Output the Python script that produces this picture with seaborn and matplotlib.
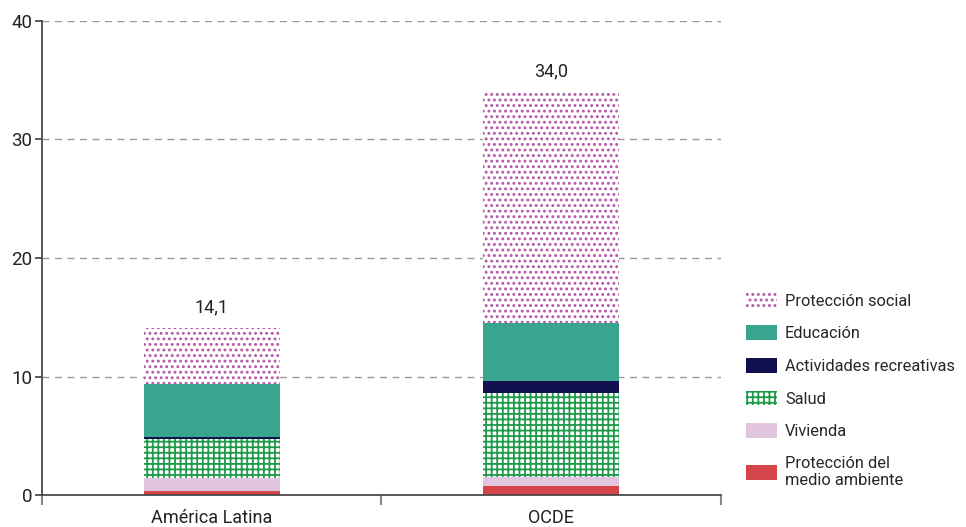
import matplotlib
matplotlib.use("Agg")
import matplotlib.pyplot as plt
import seaborn as sns
import numpy as np
from matplotlib.patches import Patch

# Data (porcentajes del PIB)
regions = ["América Latina", "OCDE"]
segments = ["Protección del\nmedio ambiente", "Vivienda", "Salud",
            "Actividades recreativas", "Educación", "Protección social"]
medio_ambiente = [0.3, 0.8]
vivienda = [1.1, 0.7]
salud = [3.3, 7.1]
recreativas = [0.2, 1.0]
educacion = [4.5, 4.9]
proteccion_social = [4.7, 19.5]
totals = [14.1, 34.0]

colors = ["#d4454a", "#e2c5df", "#1e9a4a", "#111150", "#3aa58f", "#b456a8"]
hatches = [None, None, "+++", None, None, "..."]

sns.set_theme(style="white")
plt.rcParams["font.family"] = ["Roboto", "DejaVu Sans"]
plt.rcParams["hatch.linewidth"] = 1.3

fig = plt.figure(figsize=(9.66, 5.27), dpi=100)
ax = fig.add_axes([0.0435, 0.0607, 0.7025, 0.8995])

series = [medio_ambiente, vivienda, salud, recreativas, educacion, proteccion_social]
cum = np.cumsum(np.array(series), axis=0)

# draw from the top segment down so each lower bar covers the upper one
for i in range(len(series) - 1, -1, -1):
    if hatches[i]:
        sns.barplot(x=regions, y=cum[i], color="white", width=0.4, saturation=1,
                    errorbar=None, hatch=hatches[i], edgecolor=colors[i],
                    linewidth=0, ax=ax, zorder=2)
    else:
        sns.barplot(x=regions, y=cum[i], color=colors[i], width=0.4, saturation=1,
                    errorbar=None, linewidth=0, ax=ax, zorder=2)

for xi, t in enumerate(totals):
    ax.text(xi, t + 1.0, f"{t:.1f}".replace(".", ","), ha="center", va="bottom",
            fontsize=13, color="#222222")

ax.set_xlim(-0.5, 1.5)
ax.set_ylim(0, 40)
ax.set_yticks([0, 10, 20, 30, 40])
for v in [10, 20, 30, 40]:
    ax.axhline(v, color="#999999", lw=1, ls=(0, (5, 4)), zorder=1)

ax.set_xlabel("")
ax.set_ylabel("")
sns.despine(ax=ax, top=True, right=True)
ax.spines["left"].set_color("#444444")
ax.spines["bottom"].set_color("#444444")
ax.tick_params(axis="y", left=True, length=5, color="#444444", labelsize=13.5,
               labelcolor="#222222", pad=2)
ax.tick_params(axis="x", which="major", length=0, labelsize=13,
               labelcolor="#222222", pad=10)
ax.set_xticks([-0.5, 0.5, 1.5], minor=True)
ax.tick_params(axis="x", which="minor", bottom=True, length=7, width=1.5,
               color="#888888")

handles = []
for i in range(len(series) - 1, -1, -1):
    if hatches[i]:
        handles.append(Patch(facecolor="white", edgecolor=colors[i],
                             hatch=hatches[i], linewidth=0, label=segments[i]))
    else:
        handles.append(Patch(facecolor=colors[i], linewidth=0, label=segments[i]))

fig.legend(handles=handles, loc="upper left", bbox_to_anchor=(0.765, 0.457),
           frameon=False, fontsize=11.8, handlelength=1.9, handleheight=1.0,
           handletextpad=0.5, labelspacing=1.02, borderaxespad=0)

fig.savefig("out.png", dpi=100)
